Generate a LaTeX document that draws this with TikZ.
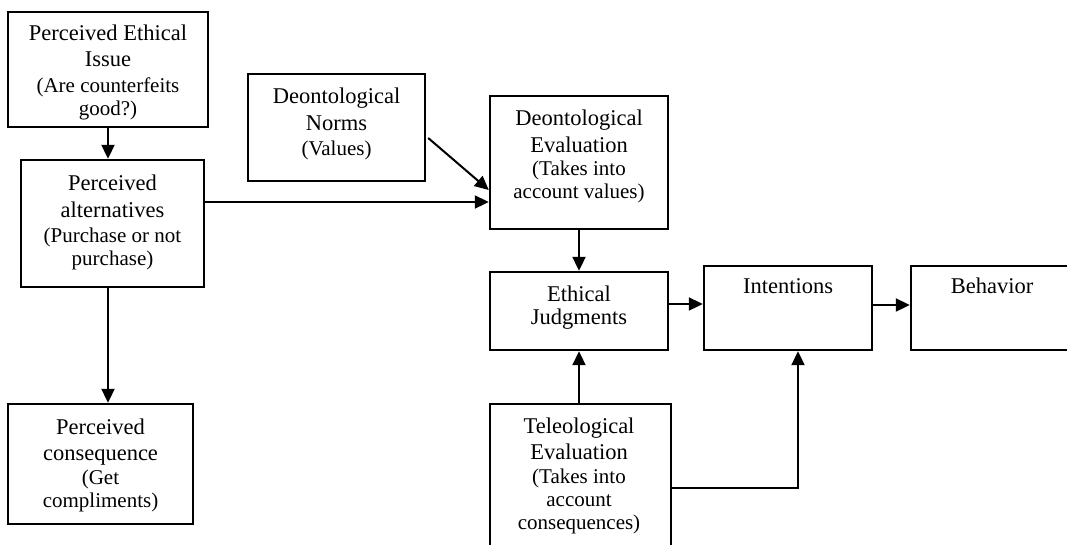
\documentclass[tikz,border=0pt]{standalone}
\usepackage{fontspec}
\setmainfont{Liberation Serif}
\usetikzlibrary{arrows.meta}
% smaller size for the bracketed explanations
\newcommand\pf{\fontsize{21}{23}\selectfont}
\tikzset{
  box/.style={draw, rectangle, line width=2.4pt, inner sep=0pt},
  txt/.style={align=center, inner sep=0pt, anchor=north,
              font=\fontsize{22.5}{23}\selectfont},
  conn/.style={line width=2pt, -{Triangle[length=14pt,width=13pt]}},
}
\begin{document}
\begin{tikzpicture}[x=1pt,y=-1pt]
\useasboundingbox (0,0) rectangle (1067,544);

% frames
\node[box, minimum width=200pt, minimum height=115pt] (issue)  at (108,69.5)   {};
\node[box, minimum width=183pt, minimum height=127pt] (alt)    at (112.5,223.5) {};
\node[box, minimum width=185pt, minimum height=120pt] (cons)   at (100.5,464)  {};
\node[box, minimum width=177pt, minimum height=107pt] (norms)  at (336.5,127.5) {};
\node[box, minimum width=178pt, minimum height=133pt] (eval)   at (579,162.5)  {};
\node[box, minimum width=178pt, minimum height=78pt]  (ethic)  at (579,311)    {};
\node[box, minimum width=168pt, minimum height=84pt]  (intent) at (788,308)    {};
\node[box, minimum width=164pt, minimum height=84pt]  (behav)  at (993,308)    {};
\node[box, minimum width=181pt, minimum height=148pt] (tele)   at (580.5,478)  {};

% captions
\node[txt] (issuetxt) at (108,24.5)
  {Perceived Ethical\\[3pt]Issue\\[3pt]\pf (Are counterfeits\\\pf good?)};
\node[txt] (alttxt) at (112.5,174.5)
  {Perceived\\[4pt]alternatives\\[2pt]\pf (Purchase or not\\\pf purchase)};
\node[txt] (constxt) at (100.5,418.5)
  {Perceived\\[3pt]consequence\\[1pt]\pf (Get\\\pf compliments)};
\node[txt] (normstxt) at (336.5,87.5)
  {Deontological\\[4pt]Norms\\[2pt]\pf (Values)};
\node[txt] (evaltxt) at (579,109.5)
  {Deontological\\[4pt]Evaluation\\\pf (Takes into\\\pf account values)};
\node[txt] (ethictxt) at (579,285.5) {Ethical\\Judgments};
\node[txt] (intenttxt) at (788,278.1) {Intentions};
\node[txt] (behavtxt) at (992,277.6) {Behavior};
\node[txt] (teletxt) at (579,417.5)
  {Teleological\\[3pt]Evaluation\\[1pt]\pf (Takes into\\\pf account\\\pf consequences)};

% connectors
\draw[conn] (issue.south) -- (issue.south |- alt.north);
\draw[conn] (alt.south -| issue.south) -- (cons.north -| issue.south);
\coordinate (altout) at ([yshift=21.5pt]alt.east);
\draw[conn] (altout) -- (altout -| eval.west);
\coordinate (normsout) at ([xshift=2pt,yshift=-10.5pt]norms.east);
\coordinate (evalin) at ([yshift=-27.5pt]eval.west);
\draw[conn] (normsout) -- (evalin);
\draw[conn] (eval.south) -- (ethic.north);
\draw[conn] (tele.north -| ethic.south) -- (ethic.south);
\coordinate (jout) at ([yshift=7pt]ethic.east);
\draw[conn] (jout) -- (jout -| intent.west);
\coordinate (iout) at ([yshift=3pt]intent.east);
\draw[conn] (iout) -- (iout -| behav.west);
\coordinate (tout) at ([yshift=-10pt]tele.east);
\draw[conn] (tout) -| ([xshift=10pt]intent.south);
\end{tikzpicture}
\end{document}
